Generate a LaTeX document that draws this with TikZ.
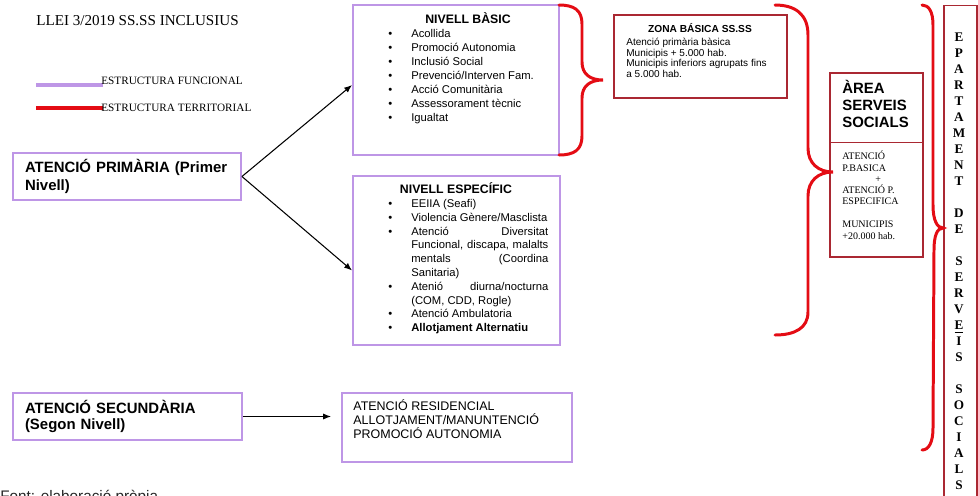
\documentclass[tikz,border=0pt]{standalone}
\usepackage{fontspec}
\setmainfont{Liberation Serif}
\setsansfont{Liberation Sans}
\usetikzlibrary{arrows.meta}

\definecolor{funccolor}{RGB}{190,150,230}
\definecolor{terrcolor}{RGB}{228,12,20}
\definecolor{boxred}{RGB}{170,40,50}

\newcommand{\fs}[2]{\fontsize{#1}{#2}\selectfont}
\newcommand{\jline}[1]{\makebox[2.74cm][s]{#1}}

\tikzset{
  funcbox/.style={draw=funccolor, line width=1.1pt, inner sep=0pt},
  terrbox/.style={draw=boxred, line width=0.6pt, inner sep=0pt},
  brace/.style={draw=terrcolor, line width=1.7pt, line cap=round},
  conn/.style={line width=0.6pt, -{Latex[length=4.5pt,width=3.5pt]}},
  txt/.style={inner sep=0pt, anchor=base west, align=left}
}

\begin{document}
\begin{tikzpicture}[x=0.02cm, y=-0.02cm]
\useasboundingbox (0,0) rectangle (978,495);
\clip (0,0) rectangle (978,495);

% Title and legend
\node[txt, font=\rmfamily\fs{8.6}{10}] (title) at (36,25) {LLEI 3/2019 SS.SS INCLUSIUS};
\draw[funccolor, line width=2.3pt] (36,85) -- (103,85);
\draw[terrcolor, line width=2.3pt] (36,108) -- (103,108);
\node[txt, font=\rmfamily\fs{6.4}{7}] (legfunc) at (101,84) {ESTRUCTURA FUNCIONAL};
\node[txt, font=\rmfamily\fs{6.4}{7}] (legterr) at (101,111) {ESTRUCTURA TERRITORIAL};

% Primary and secondary care
\node[funcbox, minimum width=4.56cm, minimum height=0.94cm, text width=4.08cm,
      align=left, font=\sffamily\bfseries\fs{8.5}{10}] (primaria) at (127,176.5)
      {ATENCIÓ PRIMÀRIA (Primer\\Nivell)};
\node[funcbox, minimum width=4.58cm, minimum height=0.94cm, text width=4.1cm,
      align=left, font=\sffamily\bfseries\fs{8.5}{9.6}] (secundaria) at (127.5,416.5)
      {ATENCIÓ SECUNDÀRIA\\(Segon Nivell)};

% Nivell basic
\node[funcbox, minimum width=4.12cm, minimum height=3.0cm] (basic) at (456,80) {};
\node[inner sep=0pt, anchor=base, font=\sffamily\bfseries\fs{7}{8}] (basictitle) at (468,23.5) {NIVELL BÀSIC};
\foreach \entry [count=\i from 0] in {Acollida, Promoció Autonomia, Inclusió Social,
    Prevenció/Interven Fam., Acció Comunitària, Assessorament tècnic, Igualtat} {
  \node[txt, font=\sffamily\fs{6.4}{8}] (basicdot-\i) at (388,37+14.1*\i) {\textbullet};
  \node[txt, font=\sffamily\fs{6.4}{8}] (basic-\i) at (411,37+14.1*\i) {\entry};
}

% Nivell especific
\node[funcbox, minimum width=4.14cm, minimum height=3.38cm] (especific) at (456.5,260.5) {};
\node[inner sep=0pt, anchor=base, font=\sffamily\bfseries\fs{7}{8}] (esptitle) at (456,193.5) {NIVELL ESPECÍFIC};
\foreach \entry [count=\i from 0] in {{EEIIA (Seafi)}, {Violencia Gènere/Masclista},
    {\jline{Atenció\hfill Diversitat}}, {\jline{Funcional, discapa, malalts}},
    {\jline{mentals\hfill (Coordina}}, {Sanitaria)}, {\jline{Atenió\hfill diurna/nocturna}},
    {(COM, CDD, Rogle)}, {Atenció Ambulatoria}, {\textbf{Allotjament Alternatiu}}} {
  \node[txt, font=\sffamily\fs{6.4}{8}] (esp-\i) at (411,207.5+13.8*\i) {\entry};
}
\foreach \i in {0,1,2,6,8,9}
  \node[txt, font=\sffamily\fs{6.4}{8}] (espdot-\i) at (388,207.5+13.8*\i) {\textbullet};

% Arrows
\draw[conn] (primaria.east) -- ([yshift=-0.1cm]basic.west);
\draw[conn] (primaria.east) -- ([yshift=-0.2cm]especific.west);

% Secondary care services
\node[funcbox, minimum width=4.6cm, minimum height=1.38cm] (residencial) at (457,427.5) {};
\node[txt, font=\sffamily\fs{7.1}{8}] (restext) at (353,438.7)
  {ATENCIÓ RESIDENCIAL\\ALLOTJAMENT/MANUNTENCIÓ\\PROMOCIÓ AUTONOMIA};
\draw[conn, shorten >=0.2cm] (secundaria.east) -- (secundaria.east -| residencial.west);

% Zona basica
\node[terrbox, minimum width=3.46cm, minimum height=1.66cm] (zona) at (700.5,56.5) {};
\node[inner sep=0pt, anchor=base, font=\sffamily\bfseries\fs{5.8}{7}] (zonatitle) at (700,32.5) {ZONA BÁSICA SS.SS};
\node[txt, font=\sffamily\fs{5.7}{6}] (zonatext) at (626,77.2)
  {Atenció primària bàsica\\Municipis + 5.000 hab.\\Municipis inferiors agrupats fins\\a 5.000 hab.};

% Area serveis socials
\node[terrbox, minimum width=1.86cm, minimum height=3.68cm] (area) at (876.5,165) {};
\draw[boxred, line width=0.6pt] ([yshift=-1.4cm]area.north west) -- ([yshift=-1.4cm]area.north east);
\node[txt, font=\sffamily\bfseries\fs{8.5}{9.6}] (areatitle) at (842,127.4) {ÀREA\\SERVEIS\\SOCIALS};
\node[txt, font=\rmfamily\fs{5.7}{6.4}] (areatext) at (842,239)
  {ATENCIÓ\\P.BASICA\\\hspace*{0.66cm}+\\ATENCIÓ P.\\ESPECIFICA\\[6.6pt]MUNICIPIS\\+20.000 hab.};

% Departament
\node[terrbox, minimum width=0.66cm, minimum height=10.3cm] (departament) at (960.5,262.5) {};
\foreach \ch [count=\i from 0] in {E,P,A,R,T,A,M,E,N,T,{},D,E,{},S,E,R,V,{\underline{E}},I,S,{},S,O,C,I,A,L,S}
  \node[inner sep=0pt, anchor=base, font=\rmfamily\bfseries\fs{7.5}{9}] (dep-\i) at (959,41.5+16*\i) {\ch};

% Territorial braces
\draw[brace] (559,5) .. controls (574,5) and (582,10) .. (582,24) -- (582,62)
  .. controls (582,74) and (590,80) .. (603,80)
  .. controls (590,80) and (582,86) .. (582,98) -- (582,136)
  .. controls (582,150) and (574,155) .. (559,155);
\draw[brace] (775,5) .. controls (795,5) and (808,14) .. (808,35) -- (808,148)
  .. controls (808,163) and (818,172) .. (833,172)
  .. controls (818,172) and (808,181) .. (808,196) -- (808,312)
  .. controls (808,328) and (795,335) .. (775,335);
\draw[brace] (922,5) .. controls (929,5) and (933,12) .. (933,25) -- (933,205)
  .. controls (933,220) and (937,228) .. (943,228)
  .. controls (937,228) and (934,236) .. (934,250) -- (933,428)
  .. controls (933,442) and (929,450) .. (922,450);

% Source
\node[txt, font=\sffamily\fs{8.7}{10}, text=black!85] (source) at (0,501) {Font: elaboració pròpia};

\end{tikzpicture}
\end{document}
